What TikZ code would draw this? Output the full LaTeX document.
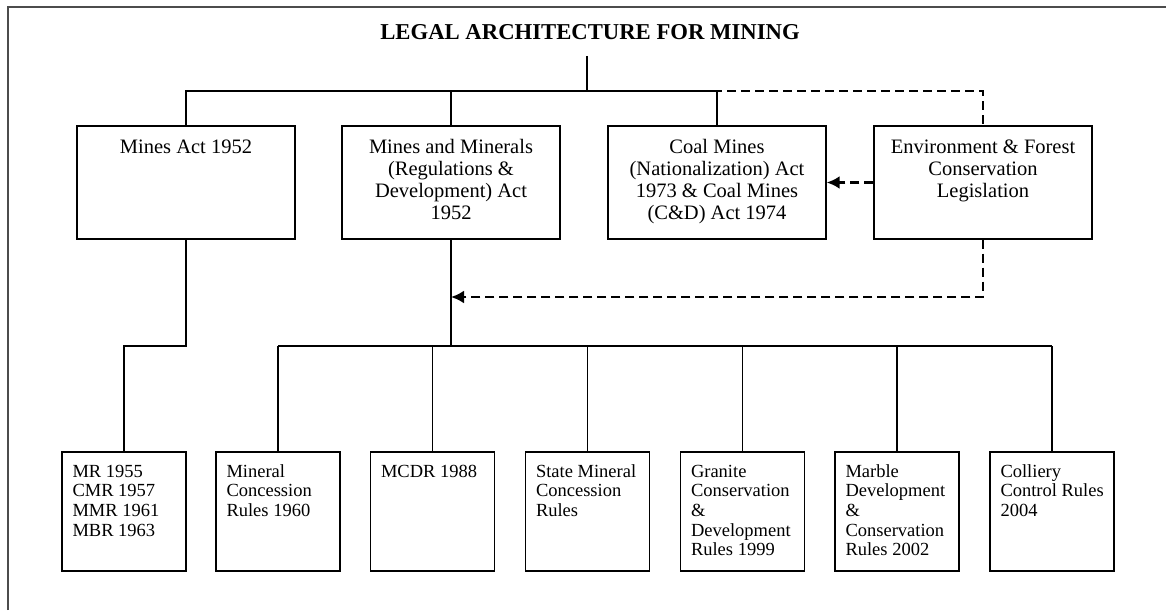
\documentclass[tikz,border=0pt]{standalone}
\usepackage{fontspec}
\setmainfont{Liberation Serif}
\usetikzlibrary{arrows.meta}
\newcommand{\topc}[1]{\parbox[c][113pt][t]{218pt}{\centering\fontsize{20.5}{22}\selectfont\rule{0pt}{27.5pt}#1\par}}
\newcommand{\botc}[1]{\parbox[c][119pt][t]{124pt}{\raggedright\leftskip=10.5pt\fontsize{18.5}{19.7}\selectfont\rule{0pt}{25pt}#1\par}}
\tikzset{
  topbox/.style={draw, line width=1.4pt, inner sep=0pt, minimum width=218pt, minimum height=113pt},
  botbox/.style={draw, line width=1.4pt, inner sep=0pt, minimum width=124pt, minimum height=119pt},
  conn/.style={line width=1.3pt},
  thickconn/.style={line width=2.4pt},
  dashline/.style={line width=2.5pt, dash pattern=on 9pt off 5pt},
  arrowtip/.style={-{Latex[length=13pt,width=13pt]}},
  frame/.style={draw=black!70, line width=1.5pt}
}
\begin{document}
\begin{tikzpicture}[x=1pt,y=-1pt]
\useasboundingbox (0,0) rectangle (1166,610);
% frame
\draw[frame] (8,610) -- (8,7) -- (1166,7);
% title
\node[inner sep=0pt, font=\bfseries\fontsize{22.7}{26}\selectfont] (title) at (590,32) {LEGAL ARCHITECTURE FOR MINING};
\coordinate (ts) at (587,56);
\coordinate (tj) at (587,91);
% level 1
\node[topbox] (mines) at (186,182.5) {\topc{Mines Act 1952}};
\node[topbox] (mmrd) at (451,182.5) {\topc{Mines and Minerals\\(Regulations \&\\Development) Act\\1952}};
\node[topbox] (coal) at (717,182.5) {\topc{Coal Mines\\(Nationalization) Act\\1973 \& Coal Mines\\(C\&D) Act 1974}};
\node[topbox] (env) at (983,182.5) {\topc{Environment \& Forest\\Conservation\\Legislation}};
% level 2
\node[botbox] (r1) at (124,511.5) {\botc{MR 1955\\CMR 1957\\MMR 1961\\MBR 1963}};
\node[botbox] (r2) at (278,511.5) {\botc{Mineral\\Concession\\Rules 1960}};
\node[botbox] (r3) at (432.5,511.5) {\botc{MCDR 1988}};
\node[botbox] (r4) at (587.5,511.5) {\botc{State Mineral\\Concession\\Rules}};
\node[botbox] (r5) at (742.5,511.5) {\botc{Granite\\Conservation\\\&\\Development\\Rules 1999}};
\node[botbox] (r6) at (897,511.5) {\botc{Marble\\Development\\\&\\Conservation\\Rules 2002}};
\node[botbox] (r7) at (1052,511.5) {\botc{Colliery\\Control Rules\\2004}};
\coordinate (mj) at (451,346);
\coordinate (ma) at (451,297);
% top connectors
\draw[conn] (ts) -- (tj);
\draw[conn] (mines.north) -- (mines.north |- tj) -- (coal.north |- tj) -- (coal.north);
\draw[conn] (mmrd.north) -- (mmrd.north |- tj);
\draw[dashline] (tj) -- (tj -| env.north) -- (env.north);
\draw[dashline, arrowtip] (env.west) -- (coal.east);
% lower connectors
\draw[conn] (mines.south) -- (mines.south |- mj) -| (r1.north);
\draw[thickconn] (mmrd.south) -- (mj);
\draw[dashline, arrowtip] (env.south) |- (ma);
\draw[conn] (r2.north |- mj) -- (r7.north |- mj);
\foreach \r in {r2,r3,r4,r5,r6,r7} {\draw[conn] (\r.north) -- (\r.north |- mj);}
\end{tikzpicture}
\end{document}
